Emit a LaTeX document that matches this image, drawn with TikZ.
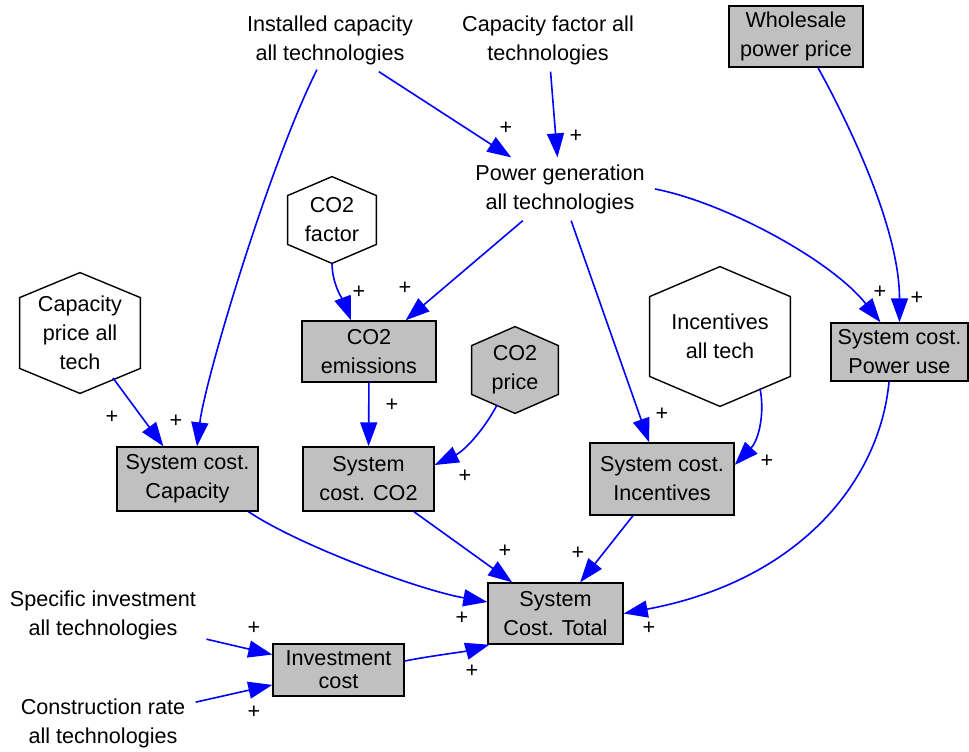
\documentclass[tikz,border=0pt]{standalone}
\usepackage{fontspec}
\setmainfont{Liberation Sans}
\usetikzlibrary{arrows.meta,backgrounds}
\definecolor{boxgray}{RGB}{192,192,192}

\begin{document}
\begin{tikzpicture}[x=0.5pt, y=-0.5pt,
    font=\fontsize{10.8pt}{14.5pt}\selectfont,
    every node/.style={align=center},
    plain/.style={inner xsep=5pt, minimum height=30pt},
    stock/.style={draw, fill=boxgray, line width=0.7pt, inner sep=0pt},
    hexa/.style={inner sep=0pt},
    link/.style={blue, line width=0.8pt, -{Triangle[length=12pt,width=8.5pt]}},
    sign/.style={text=black, inner sep=1pt}]
    \useasboundingbox (0,0) rectangle (969,751);

    % top row
    \node[plain] (inst) at (330,40) {Installed capacity\\all technologies};
    \node[plain] (capf) at (548,40) {Capacity factor all\\technologies};
    \node[stock, minimum width=67pt, minimum height=30.5pt] (whole) at (796,36.5) {Wholesale\\power price};
    \node[plain] (powgen) at (560,189) {Power generation\\all technologies};

    % constants and intermediate stocks
    \node[hexa, minimum width=60pt, minimum height=60pt] (capp) at (80,333) {Capacity\\price all\\tech};
    \node[hexa, minimum width=44pt, minimum height=43pt] (co2f) at (332,220) {CO2\\factor};
    \node[stock, minimum width=67pt, minimum height=30.5pt] (co2e) at (369,351.5) {CO2\\emissions};
    \node[hexa, minimum width=43pt, minimum height=43pt] (co2p) at (515,370) {CO2\\price};
    \node[hexa, minimum width=70pt, minimum height=69.5pt] (inc) at (720,336.5) {Incentives\\all tech};
    \node[stock, minimum width=68.5pt, minimum height=29pt] (scpu) at (899.5,352) {System cost.\\Power use};

    % cost items
    \node[stock, minimum width=70.5pt, minimum height=32pt] (scc) at (187.5,479) {System cost.\\Capacity};
    \node[stock, minimum width=65.5pt, minimum height=32pt] (scco2) at (368.5,479) {System\\cost. CO2};
    \node[stock, minimum width=72pt, minimum height=36pt] (scinc) at (662,479) {System cost.\\Incentives};
    \node[stock, minimum width=67.5pt, minimum height=30.5pt] (tot) at (555.5,613.5) {System\\Cost. Total};
    \node[stock, minimum width=65.5pt, minimum height=26pt, font=\fontsize{10.8pt}{11.5pt}\selectfont] (invc) at (338.5,670) {Investment\\cost};
    \node[plain] (spec) at (103,615) {Specific investment\\all technologies};
    \node[plain] (constr) at (103,723) {Construction rate\\all technologies};

    % hexagon outlines
    \begin{scope}[on background layer]
        \foreach \hx/\dd/\col in {capp/25/white, co2f/19/white, co2p/19/boxgray, inc/30/white}
            \draw[fill=\col, line width=0.7pt] (\hx.north) -- ([shift={(0,\dd)}]\hx.north east)
                -- ([shift={(0,-\dd)}]\hx.south east) -- (\hx.south)
                -- ([shift={(0,-\dd)}]\hx.south west) -- ([shift={(0,\dd)}]\hx.north west) -- cycle;
    \end{scope}

    % links
    \draw[link] ([shift={(-13,-2)}]inst.south) .. controls +(-47,93) and +(8,-67) .. ([shift={(9.5,0)}]scc.north)
        node[sign] (p1) at (176,421) {+};
    \draw[link] (inst) -- (powgen) node[sign] (p2) at (506,128) {+};
    \draw[link] (capf) -- (powgen) node[sign] (p3) at (576,136) {+};
    \draw[link] ([shift={(22,0)}]whole.south) .. controls +(32,58) and +(0,-93) .. (scpu.north)
        node[sign] (p4) at (917,298) {+};
    \draw[link] (powgen.east) .. controls +(68,13) and +(-50,-63) .. ([shift={(-19,0)}]scpu.north)
        node[sign] (p5) at (880,292) {+};
    \draw[link] (powgen) -- (co2e) node[sign] (p6) at (405,288) {+};
    \draw[link] (powgen) -- (scinc) node[sign] (p7) at (662,414) {+};
    \draw[link] (co2f.south) .. controls +(0,22) and +(-6,-16) .. ([shift={(-18,0)}]co2e.north)
        node[sign] (p8) at (359,292) {+};
    \draw[link] ([shift={(33,45)}]capp.center) -- (scc) node[sign] (p9) at (112,417) {+};
    \draw[link] (co2e) -- (scco2) node[sign] (p10) at (392,405) {+};
    \draw[link] ([shift={(-18,35)}]co2p.center) .. controls +(-12,23) and +(31,-15) .. ([shift={(0,-14)}]scco2.east)
        node[sign] (p11) at (465,476) {+};
    \draw[link] ([shift={(40,52)}]inc.center) .. controls +(5,25) and +(24,-25) .. ([shift={(0,-14)}]scinc.east)
        node[sign] (p12) at (767,461) {+};
    \draw[link] ([shift={(61,0)}]scc.south) .. controls +(51,34) and +(-68,-12) .. ([shift={(0,-11.5)}]tot.west)
        node[sign] (p13) at (462,618) {+};
    \draw[link] (scco2) -- (tot) node[sign] (p14) at (505,551) {+};
    \draw[link] (scinc) -- (tot) node[sign] (p15) at (578,553) {+};
    \draw[link] ([shift={(-10.5,0)}]scpu.south) .. controls +(-9,98) and +(177,-33) .. (tot.east)
        node[sign] (p16) at (649,628) {+};
    \draw[link] ([shift={(0,-9)}]invc.east) .. controls +(25,-5) and +(-25,7) .. ([shift={(2,0)}]tot.south west)
        node[sign] (p17) at (472,671) {+};
    \draw[link] (spec) -- (invc) node[sign] (p18) at (254,628) {+};
    \draw[link] (constr) -- (invc) node[sign] (p19) at (254,712) {+};
\end{tikzpicture}
\end{document}
